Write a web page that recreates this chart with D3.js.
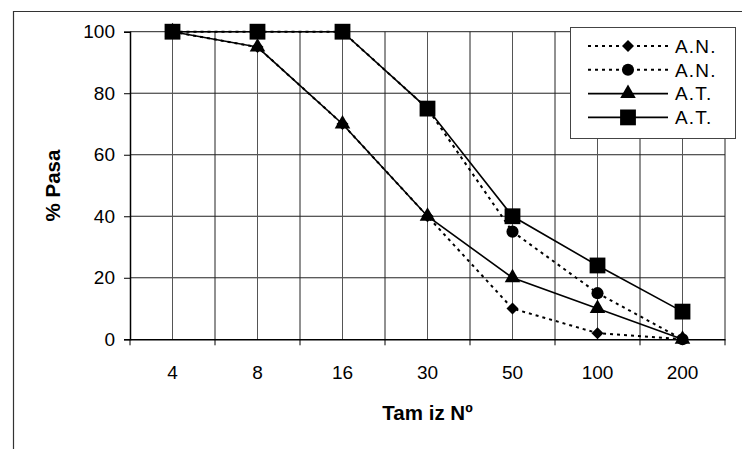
<!DOCTYPE html>
<html>
<head>
<meta charset="utf-8">
<script src="https://d3js.org/d3.v7.min.js"></script>
<style>
  body { margin: 0; background: #fff; }
  svg { font-family: 'Liberation Sans', Arial, Helvetica, sans-serif; }
</style>
</head>
<body>
<div id="chart"></div>
<script>
// Datos
const tamices = ["4", "8", "16", "30", "50", "100", "200"];
const anRombo = [100, 95, 70, 40, 10, 2, 0];
const anCirculo = [100, 100, 100, 75, 35, 15, 0];
const atTriangulo = [100, 95, 70, 40, 20, 10, 0];
const atCuadrado = [100, 100, 100, 75, 40, 24, 9];
const yTicks = [0, 20, 40, 60, 80, 100];

const series = [
  { name: "A.N.", values: anRombo, symbol: d3.symbolSquare, rot: 45, size: 72, dash: "3,4" },
  { name: "A.N.", values: anCirculo, symbol: d3.symbolCircle, rot: 0, size: 115, dash: "3,4" },
  { name: "A.T.", values: atTriangulo, symbol: d3.symbolTriangle, rot: 0, size: 105, dash: null },
  { name: "A.T.", values: atCuadrado, symbol: d3.symbolSquare, rot: 0, size: 250, dash: null }
];

const width = 742, height = 449;
const plot = { left: 130, right: 725, top: 31.7, bottom: 339.3 };

const svg = d3.select("#chart").append("svg")
  .attr("width", width)
  .attr("height", height);

// Marco exterior
svg.append("path")
  .attr("d", `M13.5,${height} L13.5,11.5 L${width},11.5`)
  .attr("fill", "none")
  .attr("stroke", "#333")
  .attr("stroke-width", 1.2);

const x = d3.scaleBand().domain(tamices).range([plot.left, plot.right]).padding(0);
const y = d3.scaleLinear().domain([0, 100]).range([plot.bottom, plot.top]);
const cx = d => x(d) + x.bandwidth() / 2;

// Cuadrícula
const grid = svg.append("g");
grid.selectAll(".h").data(yTicks.filter(t => t > 0)).enter().append("line")
  .attr("x1", plot.left).attr("x2", plot.right)
  .attr("y1", d => y(d)).attr("y2", d => y(d))
  .attr("stroke", "#222").attr("stroke-width", 1);

const bounds = tamices.map(t => x(t)).concat([plot.right]);
grid.selectAll(".vb").data(bounds.slice(1)).enter().append("line")
  .attr("x1", d => d).attr("x2", d => d)
  .attr("y1", plot.top).attr("y2", plot.bottom)
  .attr("stroke", "#222").attr("stroke-width", 1);
grid.selectAll(".vc").data(tamices).enter().append("line")
  .attr("x1", d => cx(d)).attr("x2", d => cx(d))
  .attr("y1", plot.top).attr("y2", plot.bottom)
  .attr("stroke", "#555").attr("stroke-width", 1);

// Ejes
const yAxis = svg.append("g")
  .attr("transform", `translate(${plot.left},0)`)
  .call(d3.axisLeft(y).tickValues(yTicks).tickSize(6).tickPadding(9));
yAxis.select(".domain").attr("stroke", "#000").attr("stroke-width", 1.5);
yAxis.selectAll(".tick line").attr("stroke", "#000");
yAxis.selectAll("text").attr("font-size", 19).attr("fill", "#000");

const xAxis = svg.append("g")
  .attr("transform", `translate(0,${plot.bottom})`)
  .call(d3.axisBottom(x).tickSize(0).tickPadding(26));
xAxis.select(".domain").attr("stroke", "#000").attr("stroke-width", 1.5);
xAxis.selectAll("text").attr("font-size", 19).attr("fill", "#000");
svg.append("g").selectAll("line").data(bounds).enter().append("line")
  .attr("x1", d => d).attr("x2", d => d)
  .attr("y1", plot.bottom).attr("y2", plot.bottom + 6)
  .attr("stroke", "#000");

// Títulos de ejes
svg.append("text")
  .attr("x", (plot.left + plot.right) / 2)
  .attr("y", 420)
  .attr("text-anchor", "middle")
  .attr("font-size", 20.5).attr("font-weight", "bold")
  .text("Tam iz Nº");

svg.append("text")
  .attr("transform", `translate(60,${(plot.top + plot.bottom) / 2}) rotate(-90)`)
  .attr("text-anchor", "middle")
  .attr("font-size", 20.5).attr("font-weight", "bold")
  .text("% Pasa");

// Series
const line = d3.line().x((d, i) => cx(tamices[i])).y(d => y(d));
series.forEach(s => {
  svg.append("path")
    .datum(s.values)
    .attr("d", line)
    .attr("fill", "none")
    .attr("stroke", "#000")
    .attr("stroke-width", s.dash ? 2 : 1.6)
    .attr("stroke-dasharray", s.dash);
});
series.forEach(s => {
  svg.append("g").selectAll("path").data(s.values).enter().append("path")
    .attr("transform", (d, i) => `translate(${cx(tamices[i])},${y(d)}) rotate(${s.rot})`)
    .attr("d", d3.symbol().type(s.symbol).size(s.size))
    .attr("fill", "#000");
});

// Leyenda
const legend = svg.append("g");
legend.append("rect")
  .attr("x", 570.5).attr("y", 27.5)
  .attr("width", 165).attr("height", 111)
  .attr("fill", "#fff").attr("stroke", "#444");
series.forEach((s, i) => {
  const ly = 46 + i * 23.8;
  legend.append("line")
    .attr("x1", 588).attr("x2", 668)
    .attr("y1", ly).attr("y2", ly)
    .attr("stroke", "#000")
    .attr("stroke-width", s.dash ? 2 : 1.6)
    .attr("stroke-dasharray", s.dash);
  legend.append("path")
    .attr("transform", `translate(628,${ly}) rotate(${s.rot})`)
    .attr("d", d3.symbol().type(s.symbol).size(s.size))
    .attr("fill", "#000");
  legend.append("text")
    .attr("x", 675).attr("y", ly)
    .attr("dy", "0.36em")
    .attr("font-size", 19)
    .attr("letter-spacing", 1.2)
    .text(s.name);
});
</script>
</body>
</html>
